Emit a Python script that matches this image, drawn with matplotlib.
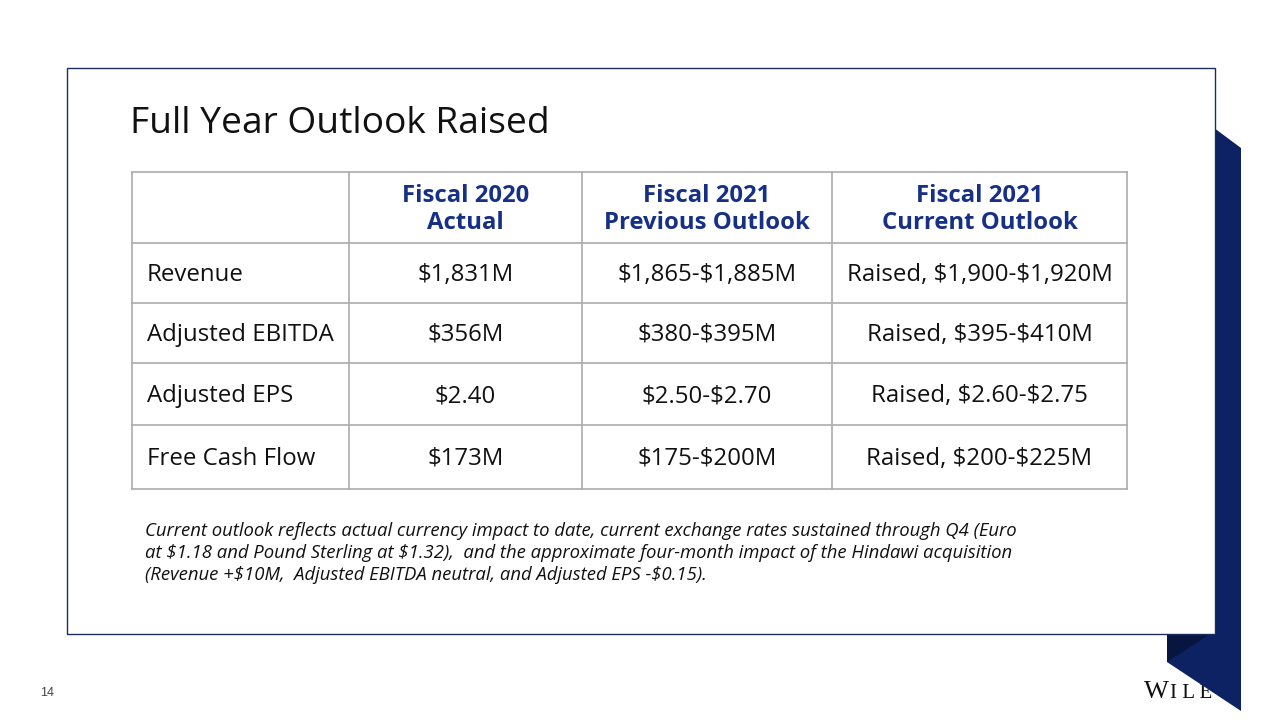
#!/usr/bin/env python3
"""Full year outlook slide: table rebuilt with matplotlib."""

import matplotlib.pyplot as plt
from matplotlib.patches import Polygon, Rectangle

NAVY = "#0c2262"
HEAD_BLUE = "#173087"
GRID = "#ababab"

title = "Full Year Outlook Raised"
col_headers = ["Fiscal 2020\nActual", "Fiscal 2021\nPrevious Outlook", "Fiscal 2021\nCurrent Outlook"]
row_labels = ["Revenue", "Adjusted EBITDA", "Adjusted EPS", "Free Cash Flow"]
fy2020_actual = ["$1,831M", "$356M", "$2.40", "$173M"]
fy2021_previous = ["$1,865-$1,885M", "$380-$395M", "$2.50-$2.70", "$175-$200M"]
fy2021_current = ["Raised, $1,900-$1,920M", "Raised, $395-$410M", "Raised, $2.60-$2.75", "Raised, $200-$225M"]
footnote = [
    "Current outlook reflects actual currency impact to date, current exchange rates sustained through Q4 (Euro",
    "at $1.18 and Pound Sterling at $1.32),  and the approximate four-month impact of the Hindawi acquisition",
    "(Revenue +$10M,  Adjusted EBITDA neutral, and Adjusted EPS -$0.15).",
]
page_number = "14"

# table grid in pixel coords (y down)
col_edges = [132, 349, 582, 832, 1127]
row_edges = [172, 243, 303, 363, 425, 489]

plt.rcParams["font.family"] = ["Open Sans", "DejaVu Sans"]
plt.rcParams["text.parse_math"] = False

fig = plt.figure(figsize=(12.8, 7.2), dpi=100)
ax = fig.add_axes([0, 0, 1, 1])
ax.set_xlim(0, 1280)
ax.set_ylim(720, 0)
ax.axis("off")

# decorative navy band on the right
ax.add_patch(Polygon([(1167, 93), (1241, 148), (1241, 711), (1167, 662)],
                     closed=True, facecolor=NAVY, edgecolor="none", zorder=2))
ax.add_patch(Polygon([(1167, 633), (1212, 633), (1167, 662)],
                     closed=True, facecolor="#071540", edgecolor="none", zorder=2.1))

# logo text, partly hidden by the band
ax.text(1144, 698, "W", family="Liberation Serif", fontsize=19, color="#111111", va="baseline", zorder=1)
ax.text(1170, 698, "I L E Y", family="Liberation Serif", fontsize=15, color="#111111", va="baseline", zorder=1)

# white content box
ax.add_patch(Rectangle((67, 68), 1148, 566, facecolor="white", edgecolor="#1b2f5e", linewidth=1.0, zorder=3))

ax.text(130, 124, title, fontsize=26.7, color="#111111", va="center", ha="left", zorder=4)

# grid lines
for y in row_edges:
    ax.plot([col_edges[0], col_edges[-1]], [y, y], color=GRID, lw=1.2, zorder=4)
for x in col_edges:
    ax.plot([x, x], [row_edges[0], row_edges[-1]], color=GRID, lw=1.2, zorder=4)

col_centers = [(col_edges[i] + col_edges[i + 1]) / 2 for i in range(1, 4)]
row_centers = [(row_edges[i] + row_edges[i + 1]) / 2 for i in range(len(row_edges) - 1)]

for cx, head in zip(col_centers, col_headers):
    ax.text(cx, row_centers[0] + 2, head, fontsize=17.2, fontweight="bold", color=HEAD_BLUE,
            ha="center", va="center", linespacing=1.2, zorder=5)

columns = [fy2020_actual, fy2021_previous, fy2021_current]
for r, label in enumerate(row_labels):
    cy = row_centers[r + 1] + 2
    ax.text(147, cy, label, fontsize=17.3, color="#111111", ha="left", va="center", zorder=5)
    for cx, values in zip(col_centers, columns):
        ax.text(cx, cy, values[r], fontsize=17.3, color="#111111", ha="center", va="center", zorder=5)

for i, line in enumerate(footnote):
    ax.text(145, 531 + 22 * i, line, fontsize=13.3, style="italic", color="#111111",
            ha="left", va="center", zorder=5)

ax.text(40, 693, page_number, family="Liberation Sans", fontsize=9, color="#444444",
        ha="left", va="center")

fig.savefig("out.png", dpi=100)
